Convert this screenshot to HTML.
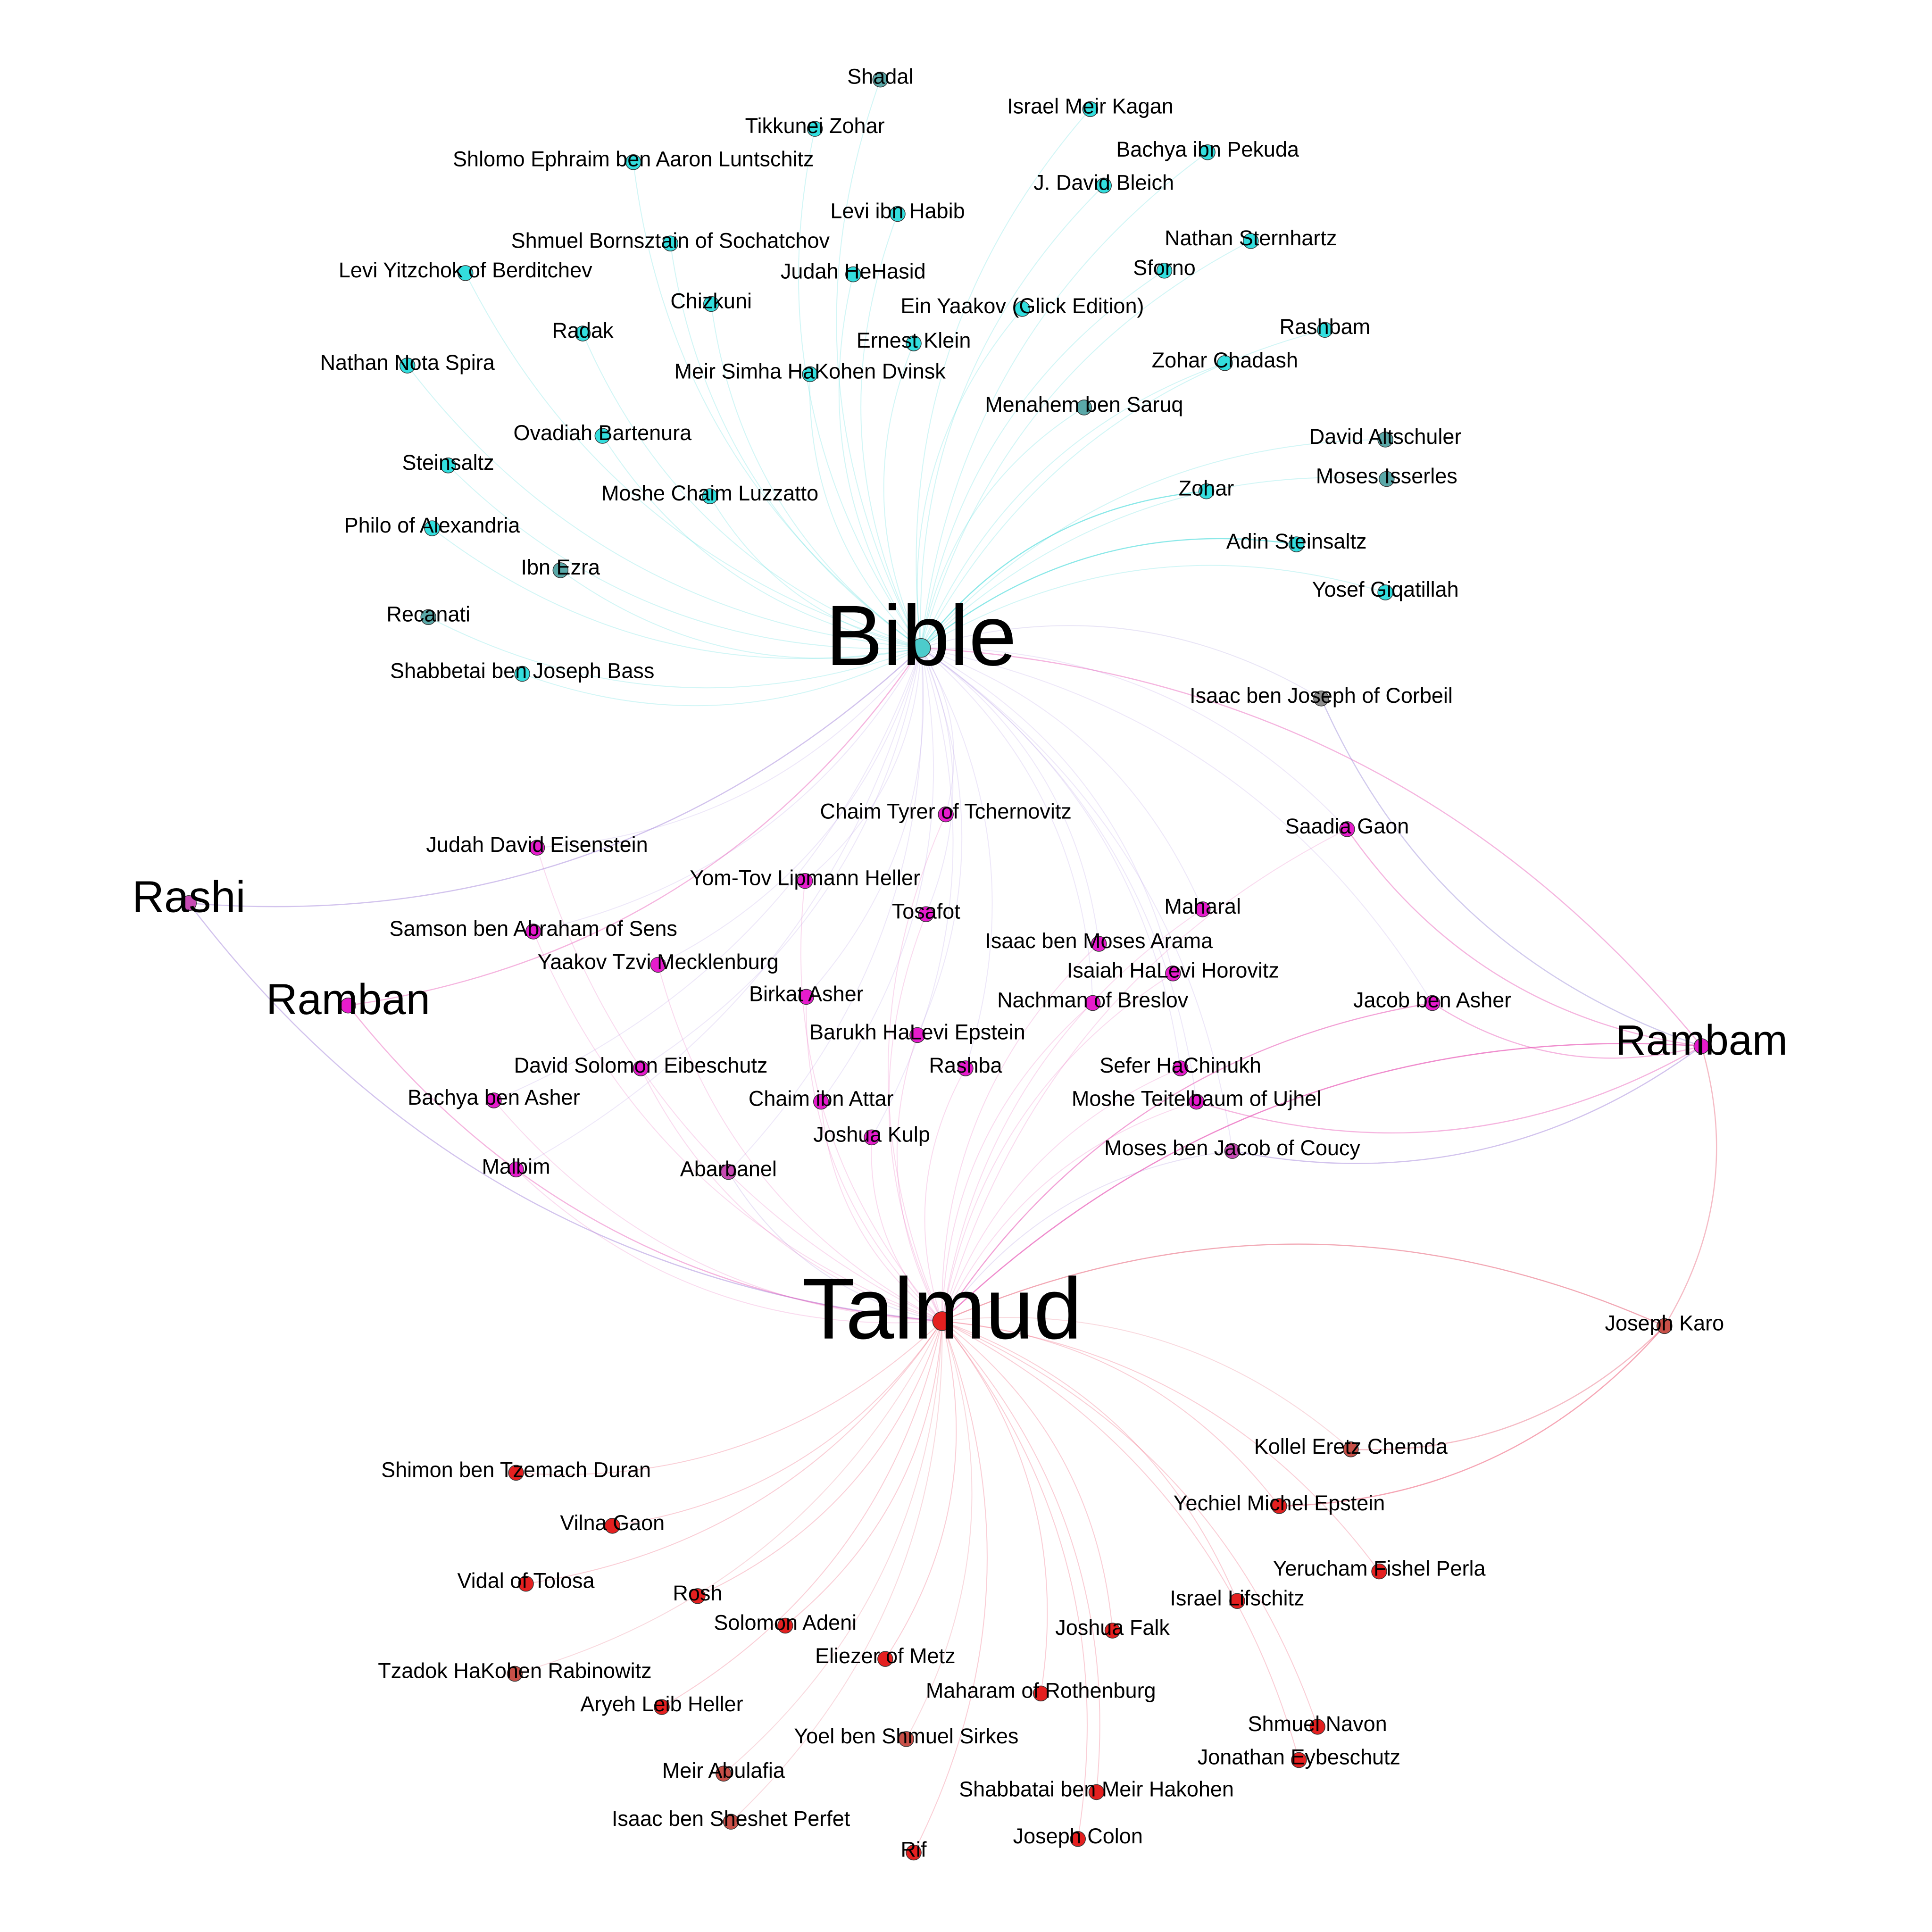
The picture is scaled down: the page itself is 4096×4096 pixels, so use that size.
<!DOCTYPE html>
<html><head><meta charset="utf-8"><style>
html,body{margin:0;padding:0;background:#fff}
svg{display:block}
text{font-family:"Liberation Sans",Arial,sans-serif;fill:#000}
</style></head><body>
<svg id="chart" width="4096" height="4096" viewBox="0 0 4096 4096" xmlns="http://www.w3.org/2000/svg">
<rect width="4096" height="4096" fill="#fff"/>
<g id="edges"></g>
<g id="nodes"></g>
<g id="labels"></g>
</svg>
<script>
const names = ["Bible","Talmud","Rashi","Ramban","Rambam",
"Shadal","Israel Meir Kagan","Tikkunei Zohar","Shlomo Ephraim ben Aaron Luntschitz","Bachya ibn Pekuda","J. David Bleich","Levi ibn Habib","Shmuel Bornsztain of Sochatchov","Nathan Sternhartz","Levi Yitzchok of Berditchev","Judah HeHasid","Sforno","Chizkuni","Ein Yaakov (Glick Edition)","Radak","Ernest Klein","Rashbam","Nathan Nota Spira","Zohar Chadash","Meir Simha HaKohen Dvinsk","Menahem ben Saruq","Ovadiah Bartenura","David Altschuler","Steinsaltz","Moses Isserles","Moshe Chaim Luzzatto","Zohar","Philo of Alexandria","Adin Steinsaltz","Ibn Ezra","Yosef Giqatillah","Recanati","Shabbetai ben Joseph Bass","Isaac ben Joseph of Corbeil",
"Chaim Tyrer of Tchernovitz","Saadia Gaon","Judah David Eisenstein","Yom-Tov Lipmann Heller","Maharal","Tosafot","Samson ben Abraham of Sens","Isaac ben Moses Arama","Yaakov Tzvi Mecklenburg","Isaiah HaLevi Horovitz","Birkat Asher","Nachman of Breslov","Jacob ben Asher","Barukh HaLevi Epstein","David Solomon Eibeschutz","Rashba","Sefer HaChinukh","Chaim ibn Attar","Moshe Teitelbaum of Ujhel","Bachya ben Asher","Joshua Kulp","Moses ben Jacob of Coucy","Malbim","Abarbanel",
"Joseph Karo","Kollel Eretz Chemda","Shimon ben Tzemach Duran","Yechiel Michel Epstein","Vilna Gaon","Yerucham Fishel Perla","Vidal of Tolosa","Rosh","Israel Lifschitz","Solomon Adeni","Joshua Falk","Eliezer of Metz","Tzadok HaKohen Rabinowitz","Maharam of Rothenburg","Aryeh Leib Heller","Shmuel Navon","Yoel ben Shmuel Sirkes","Jonathan Eybeschutz","Meir Abulafia","Shabbatai ben Meir Hakohen","Isaac ben Sheshet Perfet","Joseph Colon","Rif"];
const xs = [748,765,155,284,1380,
715,885,662,515,980,896,729,545,1015,379,693,945,578,830,474,742,1075,332,994,658,880,490,1124,365,1125,577,979,352,1052,456,1124,349,425,1072,
768,1093,437,654,976,752,434,892,535,952,655,887,1162,745,521,784,958,667,971,402,708,1000,420,592,
1350,1096,420,1038,498,1119,428,567,1004,638,903,719,419,845,538,1069,736,1054,588,890,594,875,742];
const ys = [525,1071,732,815,848,
64,88,104,131,123,150,173,197,195,221,222,219,246,250,270,278,267,296,294,303,330,353,356,377,388,402,398,428,441,462,480,500,546,566,
660,672,687,714,737,741,755,765,782,789,808,813,813,839,866,866,866,893,893,892,922,933,948,950,
1075,1175,1194,1221,1237,1274,1284,1294,1298,1318,1322,1345,1357,1373,1384,1400,1410,1427,1438,1453,1477,1491,1502];
const groups = "brpmm"+"gcccccccccccccccccccgcgcgccccgcgcn"+"mmmmmmmmmmmmmmmmmmmmmpmp"+"ddrrrrrrrrrrdrrrdrdrdrr";
const bigFont = [182,184,94,92,90];
const colors = {b:"#4ccccc",c:"#33dede",g:"#5aa8a8",n:"#8c8c8c",m:"#e61ccc",p:"#c84bb4",r:"#e42020",d:"#c85048"};
const edgeColors = {c:"#33d6d6",g:"#33d6d6",n:"#9a8ad8",m:"#e85ab8",p:"#9b7ad8",r:"#ec3a5a",d:"#e86a80"};
const extraEdges = [[2,0],[2,1],[3,0],[3,1],[4,0],[4,1],[63,4],[63,1],[51,4],[51,1],[60,4],[57,4],[40,4],[38,4],[64,63],[66,63],[31,0],[33,0],[4,1]];

const sx = d => 2.618*d - 5.5;
const sy = d => 2.614*d + 1.3;
const NS = "http://www.w3.org/2000/svg";
const gE = document.getElementById('edges'), gN = document.getElementById('nodes'), gL = document.getElementById('labels');

function arc(i,j,col,w,op){
  const x1=sx(xs[i]),y1=sy(ys[i]),x2=sx(xs[j]),y2=sy(ys[j]);
  const mx=(x1+x2)/2,my=(y1+y2)/2,dx=x2-x1,dy=y2-y1;
  const cx=mx-dy*0.22,cy=my+dx*0.22;
  const p=document.createElementNS(NS,'path');
  p.setAttribute('d',`M${x1},${y1} Q${cx},${cy} ${x2},${y2}`);
  p.setAttribute('fill','none');p.setAttribute('stroke',col);
  p.setAttribute('stroke-width',w);p.setAttribute('stroke-opacity',op);
  
  
  gE.appendChild(p);
}
for(let i=5;i<names.length;i++){
  const g=groups[i], col=edgeColors[g]||"#aaa";
  if("cgn".includes(g)) arc(i,0,col,2,0.22);
  else if("mp".includes(g)){ arc(i,0,"#a88ae0",2,0.2); arc(i,1,col,2,0.22); }
  else arc(i,1,col,2,0.25);
}
extraEdges.forEach(([a,b])=>arc(a,b,edgeColors[groups[a]]||"#e85ab8",2.5,0.45));

for(let i=0;i<names.length;i++){
  const x=sx(xs[i]),y=sy(ys[i]);
  const c=document.createElementNS(NS,'circle');
  c.setAttribute('cx',x);c.setAttribute('cy',y);c.setAttribute('r',i<2?20:16);
  c.setAttribute('fill',colors[groups[i]]);c.setAttribute('stroke','#333');c.setAttribute('stroke-width',1.5);
  
  
  gN.appendChild(c);
  const fs=i<5?bigFont[i]:45;
  const t=document.createElementNS(NS,'text');
  t.setAttribute('x',x);t.setAttribute('y',y+0.2*fs);
  t.setAttribute('font-size',fs);t.setAttribute('text-anchor','middle');
  t.textContent=names[i];
  
  
  gL.appendChild(t);
}
</script>
</body></html>
